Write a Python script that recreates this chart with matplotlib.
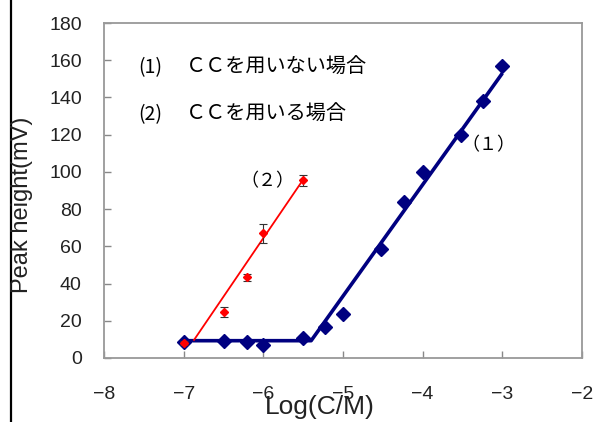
import matplotlib.pyplot as plt
from matplotlib.lines import Line2D

plt.rcParams['font.family'] = ['Liberation Sans', 'Noto Sans CJK JP', 'DejaVu Sans']

# (1) without CC : blue diamonds
x1 = [-7.0, -6.5, -6.2, -6.0, -5.5, -5.22, -5.0, -4.52, -4.24, -4.0, -3.52, -3.24, -3.0]
y1 = [8.6, 9.1, 8.6, 7.0, 10.5, 16.7, 23.6, 58.6, 84.0, 100.0, 120.0, 138.0, 157.0]
fit1_x = [-7.0, -5.4, -3.0]
fit1_y = [9.3, 9.3, 153.0]

# (2) with CC : red points with error bars
x2 = [-7.0, -6.5, -6.2, -6.0, -5.5]
y2 = [8.0, 24.7, 43.3, 67.0, 95.5]
err2 = [1.0, 2.7, 1.8, 5.0, 3.0]
fit2_x = [-6.87, -5.49]
fit2_y = [9.7, 96.5]

xticks = [-8, -7, -6, -5, -4, -3, -2]
yticks = list(range(0, 181, 20))

fig = plt.figure(figsize=(5.98, 4.22), dpi=100)
ax = fig.add_axes([104 / 598, 1 - 358 / 422, 478 / 598, 335 / 422])

ax.plot(fit1_x, fit1_y, color='#000080', lw=2.6, solid_capstyle='butt', zorder=2)
ax.plot(x1, y1, 'D', color='#000080', ms=7, zorder=3)

ax.plot(fit2_x, fit2_y, color='#ff0000', lw=1.3, zorder=4)
ax.errorbar(x2, y2, yerr=err2, fmt='none', ecolor='#333333', elinewidth=0.8,
            capsize=3, capthick=0.8, zorder=4)
ax.plot(x2, y2, 'D', color='#ff0000', ms=4, zorder=5)

ax.set_xlim(-8, -2)
ax.set_ylim(0, 180)
ax.set_xticks(xticks)
ax.set_yticks(yticks)
ax.set_xticklabels(['\u2212%d' % abs(t) for t in xticks])
ax.tick_params(direction='in', length=5, width=1, color='#888888',
               labelsize=14, labelcolor='#222222')
ax.tick_params(axis='y', pad=16)
ax.tick_params(axis='x', pad=20)
for s in ax.spines.values():
    s.set_color('#999999')
    s.set_linewidth(1.3)

jp = ['Noto Sans CJK JP', 'DejaVu Sans']
ax.text(-7.575, 156, '(1)', family=jp, fontsize=14, va='center', ha='left')
ax.text(-6.97, 156, 'ＣＣを用いない場合', family=jp, fontsize=14.5, va='center', ha='left')
ax.text(-7.575, 131, '(2)', family=jp, fontsize=14, va='center', ha='left')
ax.text(-6.97, 131, 'ＣＣを用いる場合', family=jp, fontsize=14.5, va='center', ha='left')
ax.text(-5.95, 95, '（２）', family=jp, fontsize=13, va='center', ha='center')
ax.text(-3.175, 114.5, '（１）', family=jp, fontsize=13, va='center', ha='center')

fig.text(320 / 598, 1 - 407 / 422, 'Log(C/M)', fontsize=19, color='#222222',
         ha='center', va='center')
fig.text(22 / 598, 1 - 205 / 422, 'Peak height(mV)', fontsize=17, color='#222222',
         rotation=90, ha='center', va='center')

fig.add_artist(Line2D([11 / 598, 11 / 598], [0, 1], color='black', lw=1.6,
                      transform=fig.transFigure))

plt.savefig('out.png', dpi=100)
plt.close()
